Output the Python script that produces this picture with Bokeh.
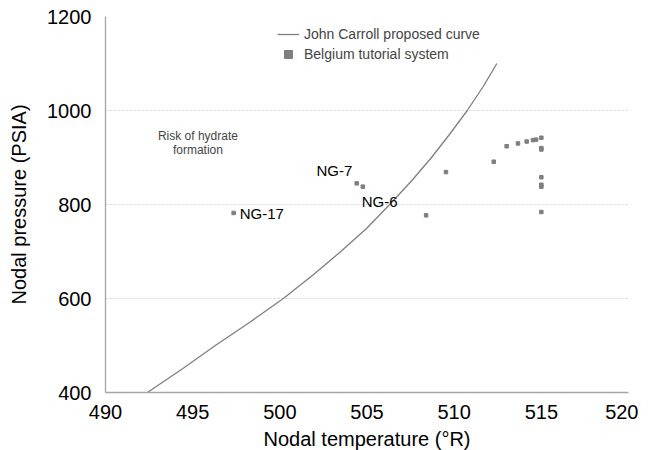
from bokeh.plotting import figure
from bokeh.models import Label, Legend, LegendItem, FixedTicker
from bokeh.embed import file_html
from bokeh.resources import INLINE

# Curve (John Carroll proposed curve)
curve_t = [492.4, 494.4, 496.3, 498.3, 500.2, 501.9, 503.5, 505.0, 506.3,
           507.55, 508.7, 509.75, 510.75, 511.65, 512.45]
curve_p = [400, 450, 500, 550, 600, 650, 700, 750, 800,
           850, 900, 950, 1000, 1050, 1100]

# Belgium tutorial system nodes
node_t = [497.35, 504.41, 504.76, 508.39, 509.53, 512.27, 513.01, 513.66, 514.16,
          514.52, 514.70, 515.0, 515.0, 515.0, 515.0, 515.0, 515.0, 515.0]
node_p = [782, 845, 838, 777, 869, 891, 924, 930, 934,
          937, 938, 942, 920, 917, 858, 842, 838, 784]

x_ticks = [490, 495, 500, 505, 510, 515, 520]
y_ticks = [400, 600, 800, 1000, 1200]

FONT = "Liberation Sans"

p = figure(frame_width=523, frame_height=376, x_range=(490, 520), y_range=(400, 1200),
           output_backend="svg", toolbar_location=None,
           min_border_left=105, min_border_top=16, min_border_right=10, min_border_bottom=10)
p.outline_line_color = None
p.background_fill_color = "white"

p.xgrid.grid_line_color = None
p.ygrid.grid_line_color = "#d4d4d4"
p.ygrid.grid_line_dash = "2 2"
p.ygrid.grid_line_width = 1

for ax in (p.xaxis[0], p.yaxis[0]):
    ax.axis_line_color = "#a6a6a6"
    ax.axis_line_width = 1.3
    ax.major_tick_line_color = None
    ax.minor_tick_line_color = None
    ax.major_label_text_font = FONT
    ax.major_label_text_font_size = "20px"
    ax.major_label_text_color = "black"
    ax.axis_label_text_font = FONT
    ax.axis_label_text_font_size = "20px"
    ax.axis_label_text_font_style = "normal"
    ax.axis_label_text_color = "black"

p.xaxis.ticker = FixedTicker(ticks=x_ticks)
p.yaxis.ticker = FixedTicker(ticks=y_ticks)
p.xaxis.axis_label = "Nodal temperature (°R)"
p.yaxis.axis_label = "Nodal pressure (PSIA)"
p.xaxis.major_label_standoff = 6
p.yaxis.major_label_standoff = 8
p.xaxis.axis_label_standoff = 6
p.yaxis.axis_label_standoff = 14

r_line = p.line(curve_t, curve_p, line_color="#7f7f7f", line_width=1.3)
r_pts = p.scatter(node_t, node_p, marker="square", size=3.5, fill_color="#7f7f7f",
                  line_color="#7f7f7f")

legend = Legend(items=[LegendItem(label="John Carroll proposed curve", renderers=[r_line]),
                       LegendItem(label="Belgium tutorial system", renderers=[r_pts])],
                location=(172, 328), padding=0, margin=0, spacing=0,
                glyph_width=22, glyph_height=20, label_height=20, label_standoff=5,
                border_line_color=None, background_fill_alpha=0,
                label_text_font=FONT, label_text_font_size="14px")
p.add_layout(legend)

labels = [("NG-17", 497.7, 781, "left", "15px"),
          ("NG-7", 502.1, 873, "left", "15px"),
          ("NG-6", 504.7, 807, "left", "15px")]
for txt, x, y, align, fs in labels:
    p.add_layout(Label(x=x, y=y, text=txt, text_font=FONT, text_font_size=fs,
                       text_align=align, text_baseline="middle", text_color="black"))

p.add_layout(Label(x=495.3, y=945, text="Risk of hydrate", text_font=FONT,
                   text_font_size="12px", text_align="center", text_baseline="middle"))
p.add_layout(Label(x=495.3, y=915, text="formation", text_font=FONT,
                   text_font_size="12px", text_align="center", text_baseline="middle"))

open("out.html", "w").write(file_html(p, INLINE))
